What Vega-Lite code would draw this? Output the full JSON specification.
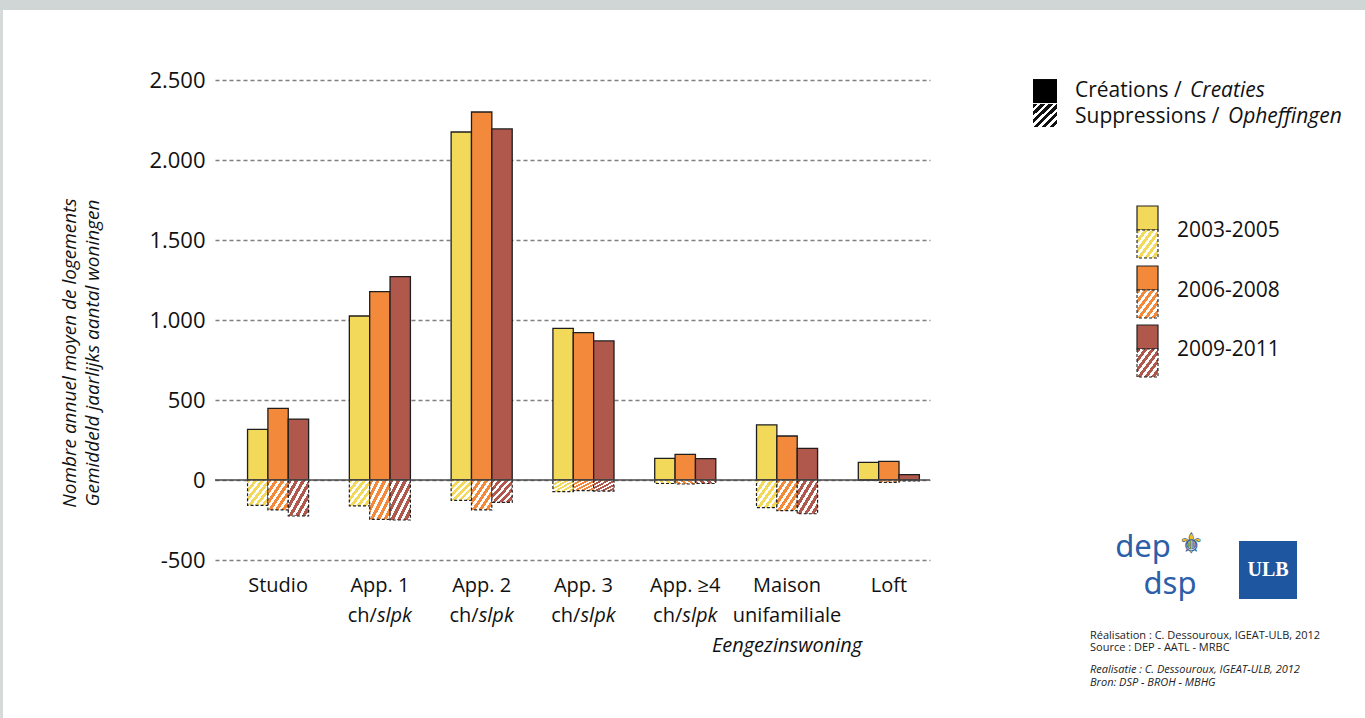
{
  "$schema": "https://vega.github.io/schema/vega-lite/v6.json",
  "autosize": "none",
  "width": 715,
  "height": 480,
  "padding": {"left": 215, "top": 80, "right": 435, "bottom": 158},
  "background": "white",
  "config": {"view": {"stroke": null}, "font": "Open Sans",
    "locale": {"number": {"decimal": ",", "thousands": ".", "grouping": [3], "currency": ["", " €"], "minus": "-"}}},
  "datasets": {
    "bars": [
      {"cat": "Studio", "period": "2003-2005", "creations": 317, "suppressions": -158},
      {"cat": "Studio", "period": "2006-2008", "creations": 448, "suppressions": -187},
      {"cat": "Studio", "period": "2009-2011", "creations": 381, "suppressions": -225},
      {"cat": "App. 1", "period": "2003-2005", "creations": 1025, "suppressions": -162},
      {"cat": "App. 1", "period": "2006-2008", "creations": 1177, "suppressions": -246},
      {"cat": "App. 1", "period": "2009-2011", "creations": 1271, "suppressions": -250},
      {"cat": "App. 2", "period": "2003-2005", "creations": 2175, "suppressions": -127},
      {"cat": "App. 2", "period": "2006-2008", "creations": 2300, "suppressions": -187},
      {"cat": "App. 2", "period": "2009-2011", "creations": 2194, "suppressions": -140},
      {"cat": "App. 3", "period": "2003-2005", "creations": 948, "suppressions": -73},
      {"cat": "App. 3", "period": "2006-2008", "creations": 921, "suppressions": -67},
      {"cat": "App. 3", "period": "2009-2011", "creations": 869, "suppressions": -69},
      {"cat": "App. ≥4", "period": "2003-2005", "creations": 135, "suppressions": -22},
      {"cat": "App. ≥4", "period": "2006-2008", "creations": 160, "suppressions": -25},
      {"cat": "App. ≥4", "period": "2009-2011", "creations": 133, "suppressions": -22},
      {"cat": "Maison", "period": "2003-2005", "creations": 344, "suppressions": -173},
      {"cat": "Maison", "period": "2006-2008", "creations": 275, "suppressions": -192},
      {"cat": "Maison", "period": "2009-2011", "creations": 198, "suppressions": -211},
      {"cat": "Loft", "period": "2003-2005", "creations": 110, "suppressions": -3},
      {"cat": "Loft", "period": "2006-2008", "creations": 117, "suppressions": -15},
      {"cat": "Loft", "period": "2009-2011", "creations": 33, "suppressions": -6}
    ],
    "cats": [
      {"cat": "App. 1", "a": "ch/", "b": "slpk"},
      {"cat": "App. 2", "a": "ch/", "b": "slpk"},
      {"cat": "App. 3", "a": "ch/", "b": "slpk"},
      {"cat": "App. ≥4", "a": "ch/", "b": "slpk"},
      {"cat": "Maison", "c": "unifamiliale", "d": "Eengezinswoning"}
    ],
    "ytitle": [
      {"fr": "Nombre annuel moyen de logements", "nl": "Gemiddeld jaarlijks aantal woningen"}
    ],
    "kinds": [
      {"fr": "Créations /", "nl": "Creaties"},
      {"fr": "Suppressions /", "nl": "Opheffingen"}
    ],
    "periods": [
      {"period": "2003-2005"},
      {"period": "2006-2008"},
      {"period": "2009-2011"}
    ],
    "credits": [
      {"lang": "fr", "l1": "Réalisation : C. Dessouroux, IGEAT-ULB, 2012", "l2": "Source : DEP - AATL - MRBC"},
      {"lang": "nl", "l1": "Realisatie : C. Dessouroux, IGEAT-ULB, 2012", "l2": "Bron: DSP - BROH - MBHG"}
    ],
    "logos": [
      {"logo": "ULB"},
      {"logo": "dep"},
      {"logo": "dsp"},
      {"logo": "⚜"}
    ],
    "frame": [
      {"part": "top"},
      {"part": "left"}
    ]
  },
  "layer": [
    {
      "data": {"name": "bars"},
      "mark": {"type": "bar", "stroke": "#1e1e1e", "strokeWidth": 1.3},
      "encoding": {
        "x": {"field": "cat", "type": "nominal",
          "scale": {"type": "band", "domain": ["Studio", "App. 1", "App. 2", "App. 3", "App. ≥4", "Maison", "Loft"], "paddingInner": 0.4, "paddingOuter": 0.212, "align": 0.754},
          "axis": {"title": null, "orient": "bottom", "domain": false, "ticks": false, "labelPadding": 15, "labelFont": "Open Sans", "labelFontSize": 20, "labelColor": "#111", "labelAngle": 0, "grid": false}},
        "xOffset": {"field": "period", "type": "nominal", "scale": {"domain": ["2003-2005", "2006-2008", "2009-2011"], "paddingInner": 0, "paddingOuter": 0}},
        "y": {"field": "creations", "type": "quantitative", "stack": null,
          "scale": {"domain": [-500, 2500], "nice": false},
          "axis": {"title": null, "orient": "left", "tickCount": 6, "format": ",.0f",
            "domain": false, "ticks": false, "labelPadding": 10,
            "labelFont": "Open Sans", "labelFontSize": 22, "labelColor": "#111",
            "grid": true, "gridColor": "#808080", "gridDash": [4, 3], "gridWidth": 1.3}},
        "fill": {"field": "period", "type": "nominal", "scale": {"domain": ["2003-2005", "2006-2008", "2009-2011"], "range": ["#f2d95a", "#f38a3b", "#b0584b"]}, "legend": null}
      }
    },
    {
      "data": {"name": "bars"},
      "transform": [{"filter": "datum.period === '2003-2005'"}],
      "mark": {"type": "bar", "stroke": "#1e1e1e", "strokeWidth": 1.2, "strokeDash": [3, 2],
        "fill": {"gradient": "linear", "x1": 0, "y1": 0, "x2": 1, "y2": 1, "stops": [
          {"offset": 0, "color": "#f2d95a"}, {"offset": 0.09, "color": "#f2d95a"}, {"offset": 0.09, "color": "#ffffff"}, {"offset": 0.167, "color": "#ffffff"},
          {"offset": 0.167, "color": "#f2d95a"}, {"offset": 0.258, "color": "#f2d95a"}, {"offset": 0.258, "color": "#ffffff"}, {"offset": 0.333, "color": "#ffffff"},
          {"offset": 0.333, "color": "#f2d95a"}, {"offset": 0.425, "color": "#f2d95a"}, {"offset": 0.425, "color": "#ffffff"}, {"offset": 0.5, "color": "#ffffff"},
          {"offset": 0.5, "color": "#f2d95a"}, {"offset": 0.592, "color": "#f2d95a"}, {"offset": 0.592, "color": "#ffffff"}, {"offset": 0.667, "color": "#ffffff"},
          {"offset": 0.667, "color": "#f2d95a"}, {"offset": 0.758, "color": "#f2d95a"}, {"offset": 0.758, "color": "#ffffff"}, {"offset": 0.833, "color": "#ffffff"},
          {"offset": 0.833, "color": "#f2d95a"}, {"offset": 0.925, "color": "#f2d95a"}, {"offset": 0.925, "color": "#ffffff"}, {"offset": 1, "color": "#ffffff"}]}},
      "encoding": {
        "x": {"field": "cat", "type": "nominal", "scale": {"type": "band", "domain": ["Studio", "App. 1", "App. 2", "App. 3", "App. ≥4", "Maison", "Loft"], "paddingInner": 0.4, "paddingOuter": 0.212, "align": 0.754}, "axis": null},
        "xOffset": {"field": "period", "type": "nominal"},
        "y": {"field": "suppressions", "type": "quantitative"}
      }
    },
    {
      "data": {"name": "bars"},
      "transform": [{"filter": "datum.period === '2006-2008'"}],
      "mark": {"type": "bar", "stroke": "#1e1e1e", "strokeWidth": 1.2, "strokeDash": [3, 2],
        "fill": {"gradient": "linear", "x1": 0, "y1": 0, "x2": 1, "y2": 1, "stops": [
          {"offset": 0, "color": "#f38a3b"}, {"offset": 0.09, "color": "#f38a3b"}, {"offset": 0.09, "color": "#ffffff"}, {"offset": 0.167, "color": "#ffffff"},
          {"offset": 0.167, "color": "#f38a3b"}, {"offset": 0.258, "color": "#f38a3b"}, {"offset": 0.258, "color": "#ffffff"}, {"offset": 0.333, "color": "#ffffff"},
          {"offset": 0.333, "color": "#f38a3b"}, {"offset": 0.425, "color": "#f38a3b"}, {"offset": 0.425, "color": "#ffffff"}, {"offset": 0.5, "color": "#ffffff"},
          {"offset": 0.5, "color": "#f38a3b"}, {"offset": 0.592, "color": "#f38a3b"}, {"offset": 0.592, "color": "#ffffff"}, {"offset": 0.667, "color": "#ffffff"},
          {"offset": 0.667, "color": "#f38a3b"}, {"offset": 0.758, "color": "#f38a3b"}, {"offset": 0.758, "color": "#ffffff"}, {"offset": 0.833, "color": "#ffffff"},
          {"offset": 0.833, "color": "#f38a3b"}, {"offset": 0.925, "color": "#f38a3b"}, {"offset": 0.925, "color": "#ffffff"}, {"offset": 1, "color": "#ffffff"}]}},
      "encoding": {
        "x": {"field": "cat", "type": "nominal", "scale": {"type": "band", "domain": ["Studio", "App. 1", "App. 2", "App. 3", "App. ≥4", "Maison", "Loft"], "paddingInner": 0.4, "paddingOuter": 0.212, "align": 0.754}, "axis": null},
        "xOffset": {"field": "period", "type": "nominal"},
        "y": {"field": "suppressions", "type": "quantitative"}
      }
    },
    {
      "data": {"name": "bars"},
      "transform": [{"filter": "datum.period === '2009-2011'"}],
      "mark": {"type": "bar", "stroke": "#1e1e1e", "strokeWidth": 1.2, "strokeDash": [3, 2],
        "fill": {"gradient": "linear", "x1": 0, "y1": 0, "x2": 1, "y2": 1, "stops": [
          {"offset": 0, "color": "#b0584b"}, {"offset": 0.09, "color": "#b0584b"}, {"offset": 0.09, "color": "#ffffff"}, {"offset": 0.167, "color": "#ffffff"},
          {"offset": 0.167, "color": "#b0584b"}, {"offset": 0.258, "color": "#b0584b"}, {"offset": 0.258, "color": "#ffffff"}, {"offset": 0.333, "color": "#ffffff"},
          {"offset": 0.333, "color": "#b0584b"}, {"offset": 0.425, "color": "#b0584b"}, {"offset": 0.425, "color": "#ffffff"}, {"offset": 0.5, "color": "#ffffff"},
          {"offset": 0.5, "color": "#b0584b"}, {"offset": 0.592, "color": "#b0584b"}, {"offset": 0.592, "color": "#ffffff"}, {"offset": 0.667, "color": "#ffffff"},
          {"offset": 0.667, "color": "#b0584b"}, {"offset": 0.758, "color": "#b0584b"}, {"offset": 0.758, "color": "#ffffff"}, {"offset": 0.833, "color": "#ffffff"},
          {"offset": 0.833, "color": "#b0584b"}, {"offset": 0.925, "color": "#b0584b"}, {"offset": 0.925, "color": "#ffffff"}, {"offset": 1, "color": "#ffffff"}]}},
      "encoding": {
        "x": {"field": "cat", "type": "nominal", "scale": {"type": "band", "domain": ["Studio", "App. 1", "App. 2", "App. 3", "App. ≥4", "Maison", "Loft"], "paddingInner": 0.4, "paddingOuter": 0.212, "align": 0.754}, "axis": null},
        "xOffset": {"field": "period", "type": "nominal"},
        "y": {"field": "suppressions", "type": "quantitative"}
      }
    },
    {
      "data": {"values": [{"line": "zero"}]},
      "mark": {"type": "rule", "color": "#4a4a4a", "strokeWidth": 1.5},
      "encoding": {"y": {"datum": 0, "type": "quantitative"}}
    },
    {
      "data": {"name": "cats"},
      "transform": [{"filter": "datum.a"}],
      "mark": {"type": "text", "align": "right", "baseline": "alphabetic", "dx": -3, "dy": 62, "font": "Open Sans", "fontSize": 20, "color": "#111"},
      "encoding": {
        "x": {"field": "cat", "type": "nominal", "bandPosition": 0.5, "scale": {"type": "band", "domain": ["Studio", "App. 1", "App. 2", "App. 3", "App. ≥4", "Maison", "Loft"], "paddingInner": 0.4, "paddingOuter": 0.212, "align": 0.754}, "axis": null},
        "y": {"datum": -500, "type": "quantitative"},
        "text": {"field": "a"}
      }
    },
    {
      "data": {"name": "cats"},
      "transform": [{"filter": "datum.b"}],
      "mark": {"type": "text", "align": "left", "baseline": "alphabetic", "dx": -3, "dy": 62, "font": "Open Sans", "fontSize": 20, "fontStyle": "italic", "color": "#111"},
      "encoding": {
        "x": {"field": "cat", "type": "nominal", "bandPosition": 0.5, "scale": {"type": "band", "domain": ["Studio", "App. 1", "App. 2", "App. 3", "App. ≥4", "Maison", "Loft"], "paddingInner": 0.4, "paddingOuter": 0.212, "align": 0.754}, "axis": null},
        "y": {"datum": -500, "type": "quantitative"},
        "text": {"field": "b"}
      }
    },
    {
      "data": {"name": "cats"},
      "transform": [{"filter": "datum.c"}],
      "mark": {"type": "text", "align": "center", "baseline": "alphabetic", "dy": 62, "font": "Open Sans", "fontSize": 20, "color": "#111"},
      "encoding": {
        "x": {"field": "cat", "type": "nominal", "bandPosition": 0.5, "scale": {"type": "band", "domain": ["Studio", "App. 1", "App. 2", "App. 3", "App. ≥4", "Maison", "Loft"], "paddingInner": 0.4, "paddingOuter": 0.212, "align": 0.754}, "axis": null},
        "y": {"datum": -500, "type": "quantitative"},
        "text": {"field": "c"}
      }
    },
    {
      "data": {"name": "cats"},
      "transform": [{"filter": "datum.d"}],
      "mark": {"type": "text", "align": "center", "baseline": "alphabetic", "dy": 92, "font": "Open Sans", "fontSize": 20, "fontStyle": "italic", "color": "#111"},
      "encoding": {
        "x": {"field": "cat", "type": "nominal", "bandPosition": 0.5, "scale": {"type": "band", "domain": ["Studio", "App. 1", "App. 2", "App. 3", "App. ≥4", "Maison", "Loft"], "paddingInner": 0.4, "paddingOuter": 0.212, "align": 0.754}, "axis": null},
        "y": {"datum": -500, "type": "quantitative"},
        "text": {"field": "d"}
      }
    },
    {
      "data": {"name": "ytitle"},
      "mark": {"type": "text", "align": "center", "baseline": "middle", "angle": 270, "font": "Open Sans", "fontSize": 19, "fontStyle": "italic", "color": "#111"},
      "encoding": {"x": {"datum": -145, "type": "quantitative", "scale": {"domain": [0, 715], "nice": false, "zero": false}, "axis": null}, "y": {"datum": 793.75, "type": "quantitative"}, "text": {"field": "fr"}}
    },
    {
      "data": {"name": "ytitle"},
      "mark": {"type": "text", "align": "center", "baseline": "middle", "angle": 270, "font": "Open Sans", "fontSize": 19, "fontStyle": "italic", "color": "#111"},
      "encoding": {"x": {"datum": -122, "type": "quantitative", "scale": {"domain": [0, 715], "nice": false, "zero": false}, "axis": null}, "y": {"datum": 793.75, "type": "quantitative"}, "text": {"field": "nl"}}
    },
    {
      "data": {"name": "frame"},
      "transform": [{"filter": "datum.part === 'top'"}],
      "mark": {"type": "rect", "fill": "#d0d5d6"},
      "encoding": {
        "x": {"datum": -215, "type": "quantitative", "scale": {"domain": [0, 715], "nice": false, "zero": false}, "axis": null},
        "x2": {"datum": 1150},
        "y": {"datum": 3000, "type": "quantitative"},
        "y2": {"datum": 2937.5}
      }
    },
    {
      "data": {"name": "frame"},
      "transform": [{"filter": "datum.part === 'left'"}],
      "mark": {"type": "rect", "fill": "#d6dadb"},
      "encoding": {
        "x": {"datum": -215, "type": "quantitative", "scale": {"domain": [0, 715], "nice": false, "zero": false}, "axis": null},
        "x2": {"datum": -212},
        "y": {"datum": 2937.5, "type": "quantitative"},
        "y2": {"datum": -1487.5}
      }
    },
    {
      "data": {"name": "kinds"},
      "transform": [{"filter": "datum.nl === 'Creaties'"}],
      "mark": {"type": "rect", "fill": "#000000"},
      "encoding": {"x": {"datum": 818, "type": "quantitative", "scale": {"domain": [0, 715], "nice": false, "zero": false}, "axis": null}, "x2": {"datum": 842}, "y": {"datum": 2506, "type": "quantitative"}, "y2": {"datum": 2356}}
    },
    {
      "data": {"name": "kinds"},
      "transform": [{"filter": "datum.nl === 'Creaties'"}],
      "mark": {"type": "text", "align": "left", "baseline": "middle", "font": "Open Sans", "fontSize": 21, "color": "#111"},
      "encoding": {"x": {"datum": 860, "type": "quantitative", "scale": {"domain": [0, 715], "nice": false, "zero": false}, "axis": null}, "y": {"datum": 2431, "type": "quantitative"}, "text": {"field": "fr"}}
    },
    {
      "data": {"name": "kinds"},
      "transform": [{"filter": "datum.nl === 'Creaties'"}],
      "mark": {"type": "text", "align": "left", "baseline": "middle", "font": "Open Sans", "fontSize": 21, "fontStyle": "italic", "color": "#111"},
      "encoding": {"x": {"datum": 975, "type": "quantitative", "scale": {"domain": [0, 715], "nice": false, "zero": false}, "axis": null}, "y": {"datum": 2431, "type": "quantitative"}, "text": {"field": "nl"}}
    },
    {
      "data": {"name": "kinds"},
      "transform": [{"filter": "datum.nl === 'Opheffingen'"}],
      "mark": {"type": "rect",
        "fill": {"gradient": "linear", "x1": 0, "y1": 0, "x2": 1, "y2": 1, "stops": [
          {"offset": 0, "color": "#111111"}, {"offset": 0.09, "color": "#111111"}, {"offset": 0.09, "color": "#ffffff"}, {"offset": 0.167, "color": "#ffffff"},
          {"offset": 0.167, "color": "#111111"}, {"offset": 0.258, "color": "#111111"}, {"offset": 0.258, "color": "#ffffff"}, {"offset": 0.333, "color": "#ffffff"},
          {"offset": 0.333, "color": "#111111"}, {"offset": 0.425, "color": "#111111"}, {"offset": 0.425, "color": "#ffffff"}, {"offset": 0.5, "color": "#ffffff"},
          {"offset": 0.5, "color": "#111111"}, {"offset": 0.592, "color": "#111111"}, {"offset": 0.592, "color": "#ffffff"}, {"offset": 0.667, "color": "#ffffff"},
          {"offset": 0.667, "color": "#111111"}, {"offset": 0.758, "color": "#111111"}, {"offset": 0.758, "color": "#ffffff"}, {"offset": 0.833, "color": "#ffffff"},
          {"offset": 0.833, "color": "#111111"}, {"offset": 0.925, "color": "#111111"}, {"offset": 0.925, "color": "#ffffff"}, {"offset": 1, "color": "#ffffff"}]}},
      "encoding": {"x": {"datum": 818, "type": "quantitative", "scale": {"domain": [0, 715], "nice": false, "zero": false}, "axis": null}, "x2": {"datum": 842}, "y": {"datum": 2350, "type": "quantitative"}, "y2": {"datum": 2206}}
    },
    {
      "data": {"name": "kinds"},
      "transform": [{"filter": "datum.nl === 'Opheffingen'"}],
      "mark": {"type": "text", "align": "left", "baseline": "middle", "font": "Open Sans", "fontSize": 21, "color": "#111"},
      "encoding": {"x": {"datum": 860, "type": "quantitative", "scale": {"domain": [0, 715], "nice": false, "zero": false}, "axis": null}, "y": {"datum": 2269, "type": "quantitative"}, "text": {"field": "fr"}}
    },
    {
      "data": {"name": "kinds"},
      "transform": [{"filter": "datum.nl === 'Opheffingen'"}],
      "mark": {"type": "text", "align": "left", "baseline": "middle", "font": "Open Sans", "fontSize": 21, "fontStyle": "italic", "color": "#111"},
      "encoding": {"x": {"datum": 1013, "type": "quantitative", "scale": {"domain": [0, 715], "nice": false, "zero": false}, "axis": null}, "y": {"datum": 2269, "type": "quantitative"}, "text": {"field": "nl"}}
    },
    {
      "data": {"name": "periods"},
      "transform": [{"filter": "datum.period === '2003-2005'"}],
      "mark": {"type": "rect", "stroke": "#222", "strokeWidth": 1.2},
      "encoding": {"x": {"datum": 922, "type": "quantitative", "scale": {"domain": [0, 715], "nice": false, "zero": false}, "axis": null}, "x2": {"datum": 943}, "y": {"datum": 1712.5, "type": "quantitative"}, "y2": {"datum": 1562.5},
        "fill": {"field": "period", "type": "nominal", "legend": null}}
    },
    {
      "data": {"name": "periods"},
      "transform": [{"filter": "datum.period === '2003-2005'"}],
      "mark": {"type": "rect", "stroke": "#222", "strokeWidth": 1.1, "strokeDash": [3, 2],
        "fill": {"gradient": "linear", "x1": 0, "y1": 0, "x2": 1, "y2": 1, "stops": [
          {"offset": 0, "color": "#f2d95a"}, {"offset": 0.09, "color": "#f2d95a"}, {"offset": 0.09, "color": "#ffffff"}, {"offset": 0.167, "color": "#ffffff"},
          {"offset": 0.167, "color": "#f2d95a"}, {"offset": 0.258, "color": "#f2d95a"}, {"offset": 0.258, "color": "#ffffff"}, {"offset": 0.333, "color": "#ffffff"},
          {"offset": 0.333, "color": "#f2d95a"}, {"offset": 0.425, "color": "#f2d95a"}, {"offset": 0.425, "color": "#ffffff"}, {"offset": 0.5, "color": "#ffffff"},
          {"offset": 0.5, "color": "#f2d95a"}, {"offset": 0.592, "color": "#f2d95a"}, {"offset": 0.592, "color": "#ffffff"}, {"offset": 0.667, "color": "#ffffff"},
          {"offset": 0.667, "color": "#f2d95a"}, {"offset": 0.758, "color": "#f2d95a"}, {"offset": 0.758, "color": "#ffffff"}, {"offset": 0.833, "color": "#ffffff"},
          {"offset": 0.833, "color": "#f2d95a"}, {"offset": 0.925, "color": "#f2d95a"}, {"offset": 0.925, "color": "#ffffff"}, {"offset": 1, "color": "#ffffff"}]}},
      "encoding": {"x": {"datum": 922, "type": "quantitative", "scale": {"domain": [0, 715], "nice": false, "zero": false}, "axis": null}, "x2": {"datum": 943}, "y": {"datum": 1562.5, "type": "quantitative"}, "y2": {"datum": 1387.5}}
    },
    {
      "data": {"name": "periods"},
      "transform": [{"filter": "datum.period === '2003-2005'"}],
      "mark": {"type": "text", "align": "left", "baseline": "middle", "font": "Open Sans", "fontSize": 21, "color": "#111"},
      "encoding": {"x": {"datum": 962, "type": "quantitative", "scale": {"domain": [0, 715], "nice": false, "zero": false}, "axis": null}, "y": {"datum": 1556, "type": "quantitative"}, "text": {"field": "period"}}
    },
    {
      "data": {"name": "periods"},
      "transform": [{"filter": "datum.period === '2006-2008'"}],
      "mark": {"type": "rect", "stroke": "#222", "strokeWidth": 1.2},
      "encoding": {"x": {"datum": 922, "type": "quantitative", "scale": {"domain": [0, 715], "nice": false, "zero": false}, "axis": null}, "x2": {"datum": 943}, "y": {"datum": 1337.5, "type": "quantitative"}, "y2": {"datum": 1187.5},
        "fill": {"field": "period", "type": "nominal", "legend": null}}
    },
    {
      "data": {"name": "periods"},
      "transform": [{"filter": "datum.period === '2006-2008'"}],
      "mark": {"type": "rect", "stroke": "#222", "strokeWidth": 1.1, "strokeDash": [3, 2],
        "fill": {"gradient": "linear", "x1": 0, "y1": 0, "x2": 1, "y2": 1, "stops": [
          {"offset": 0, "color": "#f38a3b"}, {"offset": 0.09, "color": "#f38a3b"}, {"offset": 0.09, "color": "#ffffff"}, {"offset": 0.167, "color": "#ffffff"},
          {"offset": 0.167, "color": "#f38a3b"}, {"offset": 0.258, "color": "#f38a3b"}, {"offset": 0.258, "color": "#ffffff"}, {"offset": 0.333, "color": "#ffffff"},
          {"offset": 0.333, "color": "#f38a3b"}, {"offset": 0.425, "color": "#f38a3b"}, {"offset": 0.425, "color": "#ffffff"}, {"offset": 0.5, "color": "#ffffff"},
          {"offset": 0.5, "color": "#f38a3b"}, {"offset": 0.592, "color": "#f38a3b"}, {"offset": 0.592, "color": "#ffffff"}, {"offset": 0.667, "color": "#ffffff"},
          {"offset": 0.667, "color": "#f38a3b"}, {"offset": 0.758, "color": "#f38a3b"}, {"offset": 0.758, "color": "#ffffff"}, {"offset": 0.833, "color": "#ffffff"},
          {"offset": 0.833, "color": "#f38a3b"}, {"offset": 0.925, "color": "#f38a3b"}, {"offset": 0.925, "color": "#ffffff"}, {"offset": 1, "color": "#ffffff"}]}},
      "encoding": {"x": {"datum": 922, "type": "quantitative", "scale": {"domain": [0, 715], "nice": false, "zero": false}, "axis": null}, "x2": {"datum": 943}, "y": {"datum": 1187.5, "type": "quantitative"}, "y2": {"datum": 1012.5}}
    },
    {
      "data": {"name": "periods"},
      "transform": [{"filter": "datum.period === '2006-2008'"}],
      "mark": {"type": "text", "align": "left", "baseline": "middle", "font": "Open Sans", "fontSize": 21, "color": "#111"},
      "encoding": {"x": {"datum": 962, "type": "quantitative", "scale": {"domain": [0, 715], "nice": false, "zero": false}, "axis": null}, "y": {"datum": 1181, "type": "quantitative"}, "text": {"field": "period"}}
    },
    {
      "data": {"name": "periods"},
      "transform": [{"filter": "datum.period === '2009-2011'"}],
      "mark": {"type": "rect", "stroke": "#222", "strokeWidth": 1.2},
      "encoding": {"x": {"datum": 922, "type": "quantitative", "scale": {"domain": [0, 715], "nice": false, "zero": false}, "axis": null}, "x2": {"datum": 943}, "y": {"datum": 968.75, "type": "quantitative"}, "y2": {"datum": 818.75},
        "fill": {"field": "period", "type": "nominal", "legend": null}}
    },
    {
      "data": {"name": "periods"},
      "transform": [{"filter": "datum.period === '2009-2011'"}],
      "mark": {"type": "rect", "stroke": "#222", "strokeWidth": 1.1, "strokeDash": [3, 2],
        "fill": {"gradient": "linear", "x1": 0, "y1": 0, "x2": 1, "y2": 1, "stops": [
          {"offset": 0, "color": "#b0584b"}, {"offset": 0.09, "color": "#b0584b"}, {"offset": 0.09, "color": "#ffffff"}, {"offset": 0.167, "color": "#ffffff"},
          {"offset": 0.167, "color": "#b0584b"}, {"offset": 0.258, "color": "#b0584b"}, {"offset": 0.258, "color": "#ffffff"}, {"offset": 0.333, "color": "#ffffff"},
          {"offset": 0.333, "color": "#b0584b"}, {"offset": 0.425, "color": "#b0584b"}, {"offset": 0.425, "color": "#ffffff"}, {"offset": 0.5, "color": "#ffffff"},
          {"offset": 0.5, "color": "#b0584b"}, {"offset": 0.592, "color": "#b0584b"}, {"offset": 0.592, "color": "#ffffff"}, {"offset": 0.667, "color": "#ffffff"},
          {"offset": 0.667, "color": "#b0584b"}, {"offset": 0.758, "color": "#b0584b"}, {"offset": 0.758, "color": "#ffffff"}, {"offset": 0.833, "color": "#ffffff"},
          {"offset": 0.833, "color": "#b0584b"}, {"offset": 0.925, "color": "#b0584b"}, {"offset": 0.925, "color": "#ffffff"}, {"offset": 1, "color": "#ffffff"}]}},
      "encoding": {"x": {"datum": 922, "type": "quantitative", "scale": {"domain": [0, 715], "nice": false, "zero": false}, "axis": null}, "x2": {"datum": 943}, "y": {"datum": 818.75, "type": "quantitative"}, "y2": {"datum": 643.75}}
    },
    {
      "data": {"name": "periods"},
      "transform": [{"filter": "datum.period === '2009-2011'"}],
      "mark": {"type": "text", "align": "left", "baseline": "middle", "font": "Open Sans", "fontSize": 21, "color": "#111"},
      "encoding": {"x": {"datum": 962, "type": "quantitative", "scale": {"domain": [0, 715], "nice": false, "zero": false}, "axis": null}, "y": {"datum": 812.5, "type": "quantitative"}, "text": {"field": "period"}}
    },
    {
      "data": {"name": "logos"},
      "transform": [{"filter": "datum.logo === 'ULB'"}],
      "mark": {"type": "rect", "fill": "#1e56a0"},
      "encoding": {"x": {"datum": 1024, "type": "quantitative", "scale": {"domain": [0, 715], "nice": false, "zero": false}, "axis": null}, "x2": {"datum": 1082}, "y": {"datum": -381.25, "type": "quantitative"}, "y2": {"datum": -743.75}}
    },
    {
      "data": {"name": "logos"},
      "transform": [{"filter": "datum.logo === 'ULB'"}],
      "mark": {"type": "text", "align": "center", "baseline": "middle", "font": "Liberation Serif", "fontSize": 20, "fontWeight": "bold", "color": "#ffffff"},
      "encoding": {"x": {"datum": 1053, "type": "quantitative", "scale": {"domain": [0, 715], "nice": false, "zero": false}, "axis": null}, "y": {"datum": -562.5, "type": "quantitative"}, "text": {"field": "logo"}}
    },
    {
      "data": {"name": "logos"},
      "transform": [{"filter": "datum.logo === 'dep'"}],
      "mark": {"type": "text", "align": "center", "baseline": "middle", "font": "Noto Sans", "fontSize": 31, "color": "#2d5ea8"},
      "encoding": {"x": {"datum": 928, "type": "quantitative", "scale": {"domain": [0, 715], "nice": false, "zero": false}, "axis": null}, "y": {"datum": -425, "type": "quantitative"}, "text": {"field": "logo"}}
    },
    {
      "data": {"name": "logos"},
      "transform": [{"filter": "datum.logo === 'dsp'"}],
      "mark": {"type": "text", "align": "center", "baseline": "middle", "font": "Noto Sans", "fontSize": 31, "color": "#2d5ea8"},
      "encoding": {"x": {"datum": 955, "type": "quantitative", "scale": {"domain": [0, 715], "nice": false, "zero": false}, "axis": null}, "y": {"datum": -655, "type": "quantitative"}, "text": {"field": "logo"}}
    },
    {
      "data": {"name": "logos"},
      "transform": [{"filter": "datum.logo === '⚜'"}],
      "mark": {"type": "text", "align": "center", "baseline": "middle", "font": "DejaVu Sans", "fontSize": 28, "color": "#f2c316", "stroke": "#2d5ea8", "strokeWidth": 0.6},
      "encoding": {"x": {"datum": 976, "type": "quantitative", "scale": {"domain": [0, 715], "nice": false, "zero": false}, "axis": null}, "y": {"datum": -405, "type": "quantitative"}, "text": {"field": "logo"}}
    },
    {
      "data": {"name": "credits"},
      "transform": [{"filter": "datum.lang === 'fr'"}],
      "mark": {"type": "text", "align": "left", "baseline": "alphabetic", "font": "Open Sans", "fontSize": 11, "color": "#222"},
      "encoding": {"x": {"datum": 875, "type": "quantitative", "scale": {"domain": [0, 715], "nice": false, "zero": false}, "axis": null}, "y": {"datum": -993.75, "type": "quantitative"}, "text": {"field": "l1"}}
    },
    {
      "data": {"name": "credits"},
      "transform": [{"filter": "datum.lang === 'fr'"}],
      "mark": {"type": "text", "align": "left", "baseline": "alphabetic", "font": "Open Sans", "fontSize": 11, "color": "#222"},
      "encoding": {"x": {"datum": 875, "type": "quantitative", "scale": {"domain": [0, 715], "nice": false, "zero": false}, "axis": null}, "y": {"datum": -1071.25, "type": "quantitative"}, "text": {"field": "l2"}}
    },
    {
      "data": {"name": "credits"},
      "transform": [{"filter": "datum.lang === 'nl'"}],
      "mark": {"type": "text", "align": "left", "baseline": "alphabetic", "font": "Open Sans", "fontSize": 11, "fontStyle": "italic", "color": "#222"},
      "encoding": {"x": {"datum": 875, "type": "quantitative", "scale": {"domain": [0, 715], "nice": false, "zero": false}, "axis": null}, "y": {"datum": -1206.25, "type": "quantitative"}, "text": {"field": "l1"}}
    },
    {
      "data": {"name": "credits"},
      "transform": [{"filter": "datum.lang === 'nl'"}],
      "mark": {"type": "text", "align": "left", "baseline": "alphabetic", "font": "Open Sans", "fontSize": 11, "fontStyle": "italic", "color": "#222"},
      "encoding": {"x": {"datum": 875, "type": "quantitative", "scale": {"domain": [0, 715], "nice": false, "zero": false}, "axis": null}, "y": {"datum": -1287.5, "type": "quantitative"}, "text": {"field": "l2"}}
    }
  ],
  "resolve": {"scale": {"x": "independent"}}
}
